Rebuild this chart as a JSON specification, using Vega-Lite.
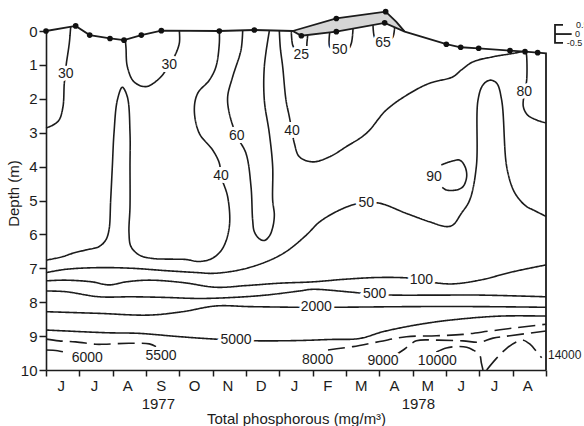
{
  "$schema": "https://vega.github.io/schema/vega-lite/v6.json",
  "width": 500,
  "height": 339,
  "autosize": {"type": "none"},
  "padding": {"left": 46, "top": 31, "right": 38, "bottom": 56},
  "background": "white",
  "config": {
    "view": {"stroke": null},
    "text": {"font": "Liberation Sans", "color": "#1c1c1c"},
    "axis": {"labelFont": "Liberation Sans", "titleFont": "Liberation Sans", "labelColor": "#1c1c1c", "titleColor": "#1c1c1c", "domainColor": "#1c1c1c", "tickColor": "#1c1c1c", "domainWidth": 1.6, "tickWidth": 1.5, "grid": false, "titleFontWeight": "normal"}
  },
  "datasets": {
    "S": [
      {"c":"surf","i":0,"m":0,"d":0},{"c":"surf","i":1,"m":0.89,"d":-0.15},{"c":"surf","i":2,"m":1.31,"d":0.12},{"c":"surf","i":3,"m":1.92,"d":0.22},{"c":"surf","i":4,"m":2.34,"d":0.27},{"c":"surf","i":5,"m":2.86,"d":0.12},{"c":"surf","i":6,"m":3.46,"d":-0.01},{"c":"surf","i":7,"m":5.2,"d":0},{"c":"surf","i":8,"m":6.25,"d":-0.03},{"c":"surf","i":9,"m":7.4,"d":0},{"c":"surf","i":10,"m":7.66,"d":0.14},{"c":"surf","i":11,"m":8.71,"d":0.02},{"c":"surf","i":12,"m":10.16,"d":-0.24},{"c":"surf","i":13,"m":10.76,"d":0.02},{"c":"surf","i":14,"m":12.01,"d":0.39},{"c":"surf","i":15,"m":12.44,"d":0.48},{"c":"surf","i":16,"m":12.98,"d":0.51},{"c":"surf","i":17,"m":13.92,"d":0.58},{"c":"surf","i":18,"m":14.37,"d":0.61},{"c":"surf","i":19,"m":14.75,"d":0.64},{"c":"surf","i":20,"m":15,"d":0.66},{"c":"surf","i":21,"m":15,"d":10},
      {"c":"ice","i":0,"m":7.4,"d":0},{"c":"ice","i":1,"m":8.71,"d":-0.37},{"c":"ice","i":2,"m":10.19,"d":-0.57},{"c":"ice","i":3,"m":10.51,"d":-0.27},{"c":"ice","i":4,"m":10.76,"d":0.02},
      {"c":"br","i":0,"m":15.51,"d":-0.18},{"c":"br","i":1,"m":15.27,"d":-0.18},{"c":"br","i":2,"m":15.27,"d":0.35},{"c":"br","i":3,"m":15.51,"d":0.35},
      {"c":"bm","i":0,"m":15.27,"d":0.09},{"c":"bm","i":1,"m":15.77,"d":0.09}
    ],
    "A": [
      {"m":7.4,"d":0,"lo":0},{"m":7.66,"d":-0.073,"lo":0.14},{"m":8.71,"d":-0.37,"lo":0.02},{"m":10.16,"d":-0.566,"lo":-0.24},{"m":10.19,"d":-0.57,"lo":-0.227},{"m":10.51,"d":-0.27,"lo":-0.09},{"m":10.76,"d":0.02,"lo":0.02}
    ],
    "P": [
      {"m":0,"d":0},{"m":0.89,"d":-0.15},{"m":1.31,"d":0.12},{"m":1.92,"d":0.22},{"m":2.34,"d":0.27},{"m":2.86,"d":0.12},{"m":3.46,"d":-0.01},{"m":5.2,"d":0},{"m":6.25,"d":-0.03},{"m":7.66,"d":0.14},{"m":8.71,"d":0.02},{"m":10.16,"d":-0.24},{"m":12.01,"d":0.39},{"m":12.44,"d":0.48},{"m":12.98,"d":0.51},{"m":13.92,"d":0.58},{"m":14.37,"d":0.61},{"m":14.75,"d":0.64},{"m":8.71,"d":-0.37},{"m":10.19,"d":-0.57}
    ],
    "L": [
      {"c":"c30a","s":"a","i":0,"m":0.74,"d":-0.12},{"c":"c30a","s":"a","i":1,"m":0.7,"d":0.35},{"c":"c30a","s":"a","i":2,"m":0.6,"d":1.05},{"c":"c30a","s":"a","i":3,"m":0.59,"d":1.27},{"c":"c30a","s":"a","i":4,"m":0.55,"d":1.53},{"c":"c30a","s":"a","i":5,"m":0.51,"d":2.23},{"c":"c30a","s":"a","i":6,"m":0.39,"d":2.63},{"c":"c30a","s":"a","i":7,"m":0.2,"d":2.78},{"c":"c30a","s":"a","i":8,"m":0,"d":2.86},
      {"c":"c30b","s":"a","i":0,"m":4.0,"d":0},{"c":"c30b","s":"a","i":1,"m":4.0,"d":0.36},{"c":"c30b","s":"a","i":2,"m":3.85,"d":0.76},{"c":"c30b","s":"a","i":3,"m":3.7,"d":1.0},{"c":"c30b","s":"a","i":4,"m":3.4,"d":1.4},{"c":"c30b","s":"a","i":5,"m":3.0,"d":1.64},{"c":"c30b","s":"a","i":6,"m":2.64,"d":1.5},{"c":"c30b","s":"a","i":7,"m":2.44,"d":1.05},{"c":"c30b","s":"a","i":8,"m":2.4,"d":0.5},{"c":"c30b","s":"a","i":9,"m":2.38,"d":0.26},
      {"c":"c40a","s":"a","i":0,"m":5.2,"d":0},{"c":"c40a","s":"a","i":1,"m":5.2,"d":0.36},{"c":"c40a","s":"a","i":2,"m":5.1,"d":1.05},{"c":"c40a","s":"a","i":3,"m":4.9,"d":1.45},{"c":"c40a","s":"a","i":4,"m":4.55,"d":1.84},{"c":"c40a","s":"a","i":5,"m":4.45,"d":2.33},{"c":"c40a","s":"a","i":6,"m":4.6,"d":3.02},{"c":"c40a","s":"a","i":7,"m":5.0,"d":3.51},{"c":"c40a","s":"a","i":8,"m":5.2,"d":3.9},{"c":"c40a","s":"a","i":9,"m":5.25,"d":4.28},{"c":"c40a","s":"a","i":10,"m":5.45,"d":4.89},{"c":"c40a","s":"a","i":11,"m":5.5,"d":5.77},{"c":"c40a","s":"a","i":12,"m":5.3,"d":6.41},{"c":"c40a","s":"a","i":13,"m":5.0,"d":6.7},{"c":"c40a","s":"a","i":14,"m":4.6,"d":6.8},{"c":"c40a","s":"a","i":15,"m":4.2,"d":6.74},{"c":"c40a","s":"a","i":16,"m":3.8,"d":6.73},{"c":"c40a","s":"a","i":17,"m":3.2,"d":6.71},{"c":"c40a","s":"a","i":18,"m":2.8,"d":6.61},{"c":"c40a","s":"a","i":19,"m":2.55,"d":6.36},{"c":"c40a","s":"a","i":20,"m":2.49,"d":5.96},{"c":"c40a","s":"a","i":21,"m":2.52,"d":5.18},{"c":"c40a","s":"a","i":22,"m":2.52,"d":4.0},{"c":"c40a","s":"a","i":23,"m":2.52,"d":3.01},{"c":"c40a","s":"a","i":24,"m":2.44,"d":1.94},{"c":"c40a","s":"a","i":25,"m":2.29,"d":1.66},{"c":"c40a","s":"a","i":26,"m":2.14,"d":2.04},{"c":"c40a","s":"a","i":27,"m":2.04,"d":3.01},{"c":"c40a","s":"a","i":28,"m":1.99,"d":4.0},{"c":"c40a","s":"a","i":29,"m":1.94,"d":4.99},{"c":"c40a","s":"a","i":30,"m":1.89,"d":5.87},{"c":"c40a","s":"a","i":31,"m":1.79,"d":6.17},{"c":"c40a","s":"a","i":32,"m":1.59,"d":6.36},{"c":"c40a","s":"a","i":33,"m":1.19,"d":6.46},{"c":"c40a","s":"a","i":34,"m":0.79,"d":6.56},{"c":"c40a","s":"a","i":35,"m":0.49,"d":6.66},{"c":"c40a","s":"a","i":36,"m":0,"d":6.76},
      {"c":"c60","s":"a","i":0,"m":5.9,"d":0},{"c":"c60","s":"a","i":1,"m":5.85,"d":0.56},{"c":"c60","s":"a","i":2,"m":5.6,"d":1.35},{"c":"c60","s":"a","i":3,"m":5.45,"d":1.94},{"c":"c60","s":"a","i":4,"m":5.5,"d":2.43},{"c":"c60","s":"a","i":5,"m":5.72,"d":3.09},{"c":"c60","s":"a","i":6,"m":6.0,"d":3.61},{"c":"c60","s":"a","i":7,"m":6.15,"d":4.59},{"c":"c60","s":"a","i":8,"m":6.2,"d":5.58},{"c":"c60","s":"a","i":9,"m":6.25,"d":5.92},{"c":"c60","s":"a","i":10,"m":6.4,"d":6.13},{"c":"c60","s":"a","i":11,"m":6.55,"d":6.18},{"c":"c60","s":"a","i":12,"m":6.7,"d":6.05},{"c":"c60","s":"a","i":13,"m":6.8,"d":5.8},{"c":"c60","s":"a","i":14,"m":6.85,"d":5.43},{"c":"c60","s":"a","i":15,"m":6.8,"d":4.99},{"c":"c60","s":"a","i":16,"m":6.8,"d":4.0},{"c":"c60","s":"a","i":17,"m":6.7,"d":3.02},{"c":"c60","s":"a","i":18,"m":6.55,"d":2.04},{"c":"c60","s":"a","i":19,"m":6.55,"d":1.05},{"c":"c60","s":"a","i":20,"m":6.7,"d":0},
      {"c":"c40b","s":"a","i":0,"m":7.0,"d":0},{"c":"c40b","s":"a","i":1,"m":7.03,"d":0.5},{"c":"c40b","s":"a","i":2,"m":7.1,"d":1.05},{"c":"c40b","s":"a","i":3,"m":7.2,"d":2.04},{"c":"c40b","s":"a","i":4,"m":7.3,"d":2.53},{"c":"c40b","s":"a","i":5,"m":7.38,"d":2.95},{"c":"c40b","s":"a","i":6,"m":7.45,"d":3.31},{"c":"c40b","s":"a","i":7,"m":7.6,"d":3.71},{"c":"c40b","s":"a","i":8,"m":8.0,"d":3.86},{"c":"c40b","s":"a","i":9,"m":8.51,"d":3.71},{"c":"c40b","s":"a","i":10,"m":9.01,"d":3.41},{"c":"c40b","s":"a","i":11,"m":9.61,"d":3.02},{"c":"c40b","s":"a","i":12,"m":10.21,"d":2.33},{"c":"c40b","s":"a","i":13,"m":10.91,"d":1.84},{"c":"c40b","s":"a","i":14,"m":11.51,"d":1.54},{"c":"c40b","s":"a","i":15,"m":12.21,"d":1.35},{"c":"c40b","s":"a","i":16,"m":12.46,"d":1.15},{"c":"c40b","s":"a","i":17,"m":12.81,"d":0.91},{"c":"c40b","s":"a","i":18,"m":13.41,"d":0.76},{"c":"c40b","s":"a","i":19,"m":14.02,"d":0.66},{"c":"c40b","s":"a","i":20,"m":14.28,"d":0.61},
      {"c":"c80","s":"a","i":0,"m":14.4,"d":0.62},{"c":"c80","s":"a","i":1,"m":14.42,"d":0.75},{"c":"c80","s":"a","i":2,"m":14.42,"d":1.45},{"c":"c80","s":"a","i":3,"m":14.36,"d":1.79},{"c":"c80","s":"a","i":4,"m":14.32,"d":2.23},{"c":"c80","s":"a","i":5,"m":14.45,"d":2.48},{"c":"c80","s":"a","i":6,"m":14.73,"d":2.63},{"c":"c80","s":"a","i":7,"m":15.0,"d":2.71},
      {"c":"c90","s":"a","i":0,"m":11.86,"d":3.95},{"c":"c90","s":"a","i":1,"m":12.11,"d":3.86},{"c":"c90","s":"a","i":2,"m":12.41,"d":3.81},{"c":"c90","s":"a","i":3,"m":12.57,"d":4.0},{"c":"c90","s":"a","i":4,"m":12.62,"d":4.3},{"c":"c90","s":"a","i":5,"m":12.51,"d":4.59},{"c":"c90","s":"a","i":6,"m":12.31,"d":4.69},{"c":"c90","s":"a","i":7,"m":12.01,"d":4.69},{"c":"c90","s":"a","i":8,"m":11.89,"d":4.61},
      {"c":"c25","s":"a","i":0,"m":7.36,"d":0.02},{"c":"c25","s":"a","i":1,"m":7.4,"d":0.41},{"c":"c25","s":"a","i":2,"m":7.5,"d":0.58},{"c":"c25","s":"a","i":3,"m":7.66,"d":0.68},{"c":"c25","s":"a","i":4,"m":7.8,"d":0.56},{"c":"c25","s":"a","i":5,"m":7.83,"d":0.32},{"c":"c25","s":"a","i":6,"m":7.85,"d":0.13},
      {"c":"c50h","s":"a","i":0,"m":8.51,"d":0.05},{"c":"c50h","s":"a","i":1,"m":8.51,"d":0.46},{"c":"c50h","s":"a","i":2,"m":8.63,"d":0.56},{"c":"c50h","s":"a","i":3,"m":8.81,"d":0.62},{"c":"c50h","s":"a","i":4,"m":9.05,"d":0.56},{"c":"c50h","s":"a","i":5,"m":9.16,"d":0.36},{"c":"c50h","s":"a","i":6,"m":9.21,"d":-0.07},
      {"c":"c65","s":"a","i":0,"m":9.81,"d":-0.17},{"c":"c65","s":"a","i":1,"m":9.86,"d":0.2},{"c":"c65","s":"a","i":2,"m":9.96,"d":0.29},{"c":"c65","s":"a","i":3,"m":10.11,"d":0.38},{"c":"c65","s":"a","i":4,"m":10.31,"d":0.27},{"c":"c65","s":"a","i":5,"m":10.41,"d":0.17},{"c":"c65","s":"a","i":6,"m":10.46,"d":-0.12},
      {"c":"c50","s":"a","i":0,"m":0,"d":7.13},{"c":"c50","s":"a","i":1,"m":0.59,"d":7.03},{"c":"c50","s":"a","i":2,"m":1.59,"d":6.98},{"c":"c50","s":"a","i":3,"m":2.59,"d":7.0},{"c":"c50","s":"a","i":4,"m":3.6,"d":7.07},{"c":"c50","s":"a","i":5,"m":4.6,"d":7.13},{"c":"c50","s":"a","i":6,"m":5.0,"d":7.15},{"c":"c50","s":"a","i":7,"m":5.8,"d":7.05},{"c":"c50","s":"a","i":8,"m":6.6,"d":6.81},{"c":"c50","s":"a","i":9,"m":7.2,"d":6.51},{"c":"c50","s":"a","i":10,"m":7.81,"d":6.02},{"c":"c50","s":"a","i":11,"m":8.21,"d":5.63},{"c":"c50","s":"a","i":12,"m":8.81,"d":5.28},{"c":"c50","s":"a","i":13,"m":9.31,"d":5.1},{"c":"c50","s":"a","i":14,"m":9.61,"d":5.07},{"c":"c50","s":"a","i":15,"m":10.01,"d":5.08},{"c":"c50","s":"a","i":16,"m":10.81,"d":5.38},{"c":"c50","s":"a","i":17,"m":11.51,"d":5.63},{"c":"c50","s":"a","i":18,"m":12.01,"d":5.77},{"c":"c50","s":"a","i":19,"m":12.21,"d":5.72},{"c":"c50","s":"a","i":20,"m":12.46,"d":5.38},{"c":"c50","s":"a","i":21,"m":12.71,"d":4.99},{"c":"c50","s":"a","i":22,"m":12.91,"d":4.0},{"c":"c50","s":"a","i":23,"m":12.96,"d":2.04},{"c":"c50","s":"a","i":24,"m":13.11,"d":1.59},{"c":"c50","s":"a","i":25,"m":13.32,"d":1.45},{"c":"c50","s":"a","i":26,"m":13.52,"d":1.54},{"c":"c50","s":"a","i":27,"m":13.67,"d":2.04},{"c":"c50","s":"a","i":28,"m":13.82,"d":4.0},{"c":"c50","s":"a","i":29,"m":14.02,"d":4.69},{"c":"c50","s":"a","i":30,"m":14.22,"d":4.99},{"c":"c50","s":"a","i":31,"m":14.42,"d":5.18},{"c":"c50","s":"a","i":32,"m":14.62,"d":5.28},{"c":"c50","s":"a","i":33,"m":15.0,"d":5.47},
      {"c":"c100","s":"a","i":0,"m":0,"d":7.37},{"c":"c100","s":"a","i":1,"m":0.59,"d":7.35},{"c":"c100","s":"a","i":2,"m":1.38,"d":7.4},{"c":"c100","s":"a","i":3,"m":1.89,"d":7.49},{"c":"c100","s":"a","i":4,"m":2.4,"d":7.4},{"c":"c100","s":"a","i":5,"m":3.1,"d":7.35},{"c":"c100","s":"a","i":6,"m":4.1,"d":7.42},{"c":"c100","s":"a","i":7,"m":5.1,"d":7.56},{"c":"c100","s":"a","i":8,"m":6.0,"d":7.51},{"c":"c100","s":"a","i":9,"m":7.0,"d":7.44},{"c":"c100","s":"a","i":10,"m":8.0,"d":7.4},{"c":"c100","s":"a","i":11,"m":9.01,"d":7.32},{"c":"c100","s":"a","i":12,"m":10.01,"d":7.27},{"c":"c100","s":"a","i":13,"m":10.91,"d":7.29},{"c":"c100","s":"a","i":14,"m":11.26,"d":7.35},{"c":"c100","s":"a","i":15,"m":11.71,"d":7.43},{"c":"c100","s":"a","i":16,"m":12.21,"d":7.46},{"c":"c100","s":"a","i":17,"m":13.01,"d":7.35},{"c":"c100","s":"a","i":18,"m":14.02,"d":7.1},{"c":"c100","s":"a","i":19,"m":15.0,"d":6.9},
      {"c":"c500","s":"a","i":0,"m":0,"d":7.67},{"c":"c500","s":"a","i":1,"m":0.59,"d":7.69},{"c":"c500","s":"a","i":2,"m":1.59,"d":7.84},{"c":"c500","s":"a","i":3,"m":2.59,"d":7.84},{"c":"c500","s":"a","i":4,"m":3.6,"d":7.86},{"c":"c500","s":"a","i":5,"m":4.6,"d":7.89},{"c":"c500","s":"a","i":6,"m":5.6,"d":7.86},{"c":"c500","s":"a","i":7,"m":6.6,"d":7.79},{"c":"c500","s":"a","i":8,"m":7.6,"d":7.67},{"c":"c500","s":"a","i":9,"m":8.0,"d":7.62},{"c":"c500","s":"a","i":10,"m":9.01,"d":7.69},{"c":"c500","s":"a","i":11,"m":9.86,"d":7.77},{"c":"c500","s":"a","i":12,"m":10.41,"d":7.79},{"c":"c500","s":"a","i":13,"m":12.01,"d":7.79},{"c":"c500","s":"a","i":14,"m":13.01,"d":7.79},{"c":"c500","s":"a","i":15,"m":15.0,"d":7.84},
      {"c":"c2000","s":"a","i":0,"m":0,"d":8.28},{"c":"c2000","s":"a","i":1,"m":1.59,"d":8.33},{"c":"c2000","s":"a","i":2,"m":3.1,"d":8.38},{"c":"c2000","s":"a","i":3,"m":4.1,"d":8.28},{"c":"c2000","s":"a","i":4,"m":5.1,"d":8.11},{"c":"c2000","s":"a","i":5,"m":6.1,"d":8.13},{"c":"c2000","s":"a","i":6,"m":7.6,"d":8.15},{"c":"c2000","s":"a","i":7,"m":8.11,"d":8.15},{"c":"c2000","s":"a","i":8,"m":8.61,"d":8.15},{"c":"c2000","s":"a","i":9,"m":11.01,"d":8.13},{"c":"c2000","s":"a","i":10,"m":13.01,"d":8.13},{"c":"c2000","s":"a","i":11,"m":15.0,"d":8.15},
      {"c":"c5000","s":"a","i":0,"m":0,"d":8.82},{"c":"c5000","s":"a","i":1,"m":1.79,"d":8.9},{"c":"c5000","s":"a","i":2,"m":2.8,"d":8.92},{"c":"c5000","s":"a","i":3,"m":3.8,"d":9.0},{"c":"c5000","s":"a","i":4,"m":4.6,"d":9.06},{"c":"c5000","s":"a","i":5,"m":5.7,"d":9.12},{"c":"c5000","s":"a","i":6,"m":6.4,"d":9.14},{"c":"c5000","s":"a","i":7,"m":7.6,"d":9.13},{"c":"c5000","s":"a","i":8,"m":8.51,"d":9.1},{"c":"c5000","s":"a","i":9,"m":9.41,"d":9.07},{"c":"c5000","s":"a","i":10,"m":10.11,"d":8.87},{"c":"c5000","s":"a","i":11,"m":11.11,"d":8.67},{"c":"c5000","s":"a","i":12,"m":12.11,"d":8.53},{"c":"c5000","s":"a","i":13,"m":13.62,"d":8.41},{"c":"c5000","s":"a","i":14,"m":15.0,"d":8.41},
      {"c":"d5500","s":"b","i":0,"m":0,"d":9.09},{"c":"d5500","s":"b","i":1,"m":0.39,"d":9.14},{"c":"d5500","s":"b","i":2,"m":0.89,"d":9.17},{"c":"d5500","s":"b","i":3,"m":1.49,"d":9.24},{"c":"d5500","s":"b","i":4,"m":1.74,"d":9.24},{"c":"d5500","s":"b","i":5,"m":2.49,"d":9.21},{"c":"d5500","s":"b","i":6,"m":3.1,"d":9.23},{"c":"d5500","s":"b","i":7,"m":3.3,"d":9.31},
      {"c":"d6000","s":"b","i":0,"m":0,"d":9.41},{"c":"d6000","s":"b","i":1,"m":0.35,"d":9.43},{"c":"d6000","s":"b","i":2,"m":0.59,"d":9.48},
      {"c":"d8000","s":"b","i":0,"m":8.46,"d":9.41},{"c":"d8000","s":"b","i":1,"m":9.21,"d":9.31},{"c":"d8000","s":"b","i":2,"m":10.01,"d":9.16},{"c":"d8000","s":"b","i":3,"m":10.81,"d":9.02},{"c":"d8000","s":"b","i":4,"m":11.71,"d":8.99},{"c":"d8000","s":"b","i":5,"m":12.51,"d":8.95},{"c":"d8000","s":"b","i":6,"m":13.32,"d":8.85},{"c":"d8000","s":"b","i":7,"m":14.12,"d":8.75},{"c":"d8000","s":"b","i":8,"m":15.0,"d":8.65},
      {"c":"d9000","s":"b","i":0,"m":10.41,"d":9.61},{"c":"d9000","s":"b","i":1,"m":10.76,"d":9.38},{"c":"d9000","s":"b","i":2,"m":11.11,"d":9.14},{"c":"d9000","s":"b","i":3,"m":11.72,"d":9.12},{"c":"d9000","s":"b","i":4,"m":12.51,"d":9.14},{"c":"d9000","s":"b","i":5,"m":13.01,"d":9.18},{"c":"d9000","s":"b","i":6,"m":13.41,"d":9.06},{"c":"d9000","s":"b","i":7,"m":13.92,"d":8.99},{"c":"d9000","s":"b","i":8,"m":15.0,"d":8.85},
      {"c":"d10000","s":"b","i":0,"m":11.71,"d":9.47},{"c":"d10000","s":"b","i":1,"m":12.01,"d":9.35},{"c":"d10000","s":"b","i":2,"m":12.31,"d":9.31},{"c":"d10000","s":"b","i":3,"m":12.62,"d":9.33},{"c":"d10000","s":"b","i":4,"m":12.81,"d":9.41},{"c":"d10000","s":"b","i":5,"m":13.01,"d":9.56},{"c":"d10000","s":"b","i":6,"m":13.06,"d":9.79},{"c":"d10000","s":"b","i":7,"m":13.11,"d":10.0},
      {"c":"d12000","s":"b","i":0,"m":13.22,"d":10.0},{"c":"d12000","s":"b","i":1,"m":13.52,"d":9.65},{"c":"d12000","s":"b","i":2,"m":13.82,"d":9.36},{"c":"d12000","s":"b","i":3,"m":14.12,"d":9.17},{"c":"d12000","s":"b","i":4,"m":14.32,"d":9.12},{"c":"d12000","s":"b","i":5,"m":14.52,"d":9.24},{"c":"d12000","s":"b","i":6,"m":14.72,"d":9.46},{"c":"d12000","s":"b","i":7,"m":14.87,"d":9.64}
    ],
    "T": [
      {"t":"30","m":0.59,"d":1.27},{"t":"30","m":3.7,"d":1.0},{"t":"40","m":5.25,"d":4.28},{"t":"60","m":5.72,"d":3.09},{"t":"40","m":7.38,"d":2.95},{"t":"25","m":7.66,"d":0.72},{"t":"50","m":8.81,"d":0.56},{"t":"65","m":10.11,"d":0.36},{"t":"80","m":14.35,"d":1.79},{"t":"90","m":11.64,"d":4.3},{"t":"50","m":9.61,"d":5.07},{"t":"100","m":11.26,"d":7.35},{"t":"500","m":9.86,"d":7.77},{"t":"2000","m":8.11,"d":8.15},{"t":"5000","m":5.7,"d":9.12},{"t":"6000","m":1.24,"d":9.66},{"t":"5500","m":3.45,"d":9.59},{"t":"8000","m":8.15,"d":9.7},{"t":"9000","m":10.11,"d":9.73},{"t":"10000","m":11.74,"d":9.73}
    ],
    "R": [
      {"t":"14000","m":15.06,"d":9.56}
    ],
    "K": [
      {"t":"0.5","m":15.9,"d":-0.18},{"t":"0","m":15.87,"d":0.09},{"t":"-0.5","m":15.62,"d":0.35}
    ],
    "Y": [
      {"t":"1977","m":3.37,"d":10},{"t":"1978","m":11.17,"d":10}
    ]
  },
  "encoding": {
    "x": {
      "field": "m", "type": "quantitative",
      "scale": {"domain": [0, 15], "nice": false, "zero": false},
      "axis": {
        "title": "Total phosphorous (mg/m³)",
        "values": [0,0.44,1,1.44,2,2.44,3,3.44,4,4.44,5,5.44,6,6.44,7,7.44,8,8.44,9,9.44,10,10.44,11,11.44,12,12.44,13,13.44,14,14.44,15],
        "tickOpacity": {"condition": {"test": "datum.value % 1 != 0", "value": 0}, "value": 1},
        "labelExpr": "datum.value % 1 ? ['J','J','A','S','O','N','D','J','F','M','A','M','J','J','A'][floor(datum.value)] : ''",
        "tickSize": 6, "labelPadding": 2, "labelFontSize": 15, "labelFlush": false, "labelOverlap": false, "labelBound": false,
        "titleFontSize": 15, "titleY": 48, "titleBaseline": "middle"
      }
    },
    "y": {
      "field": "d", "type": "quantitative",
      "scale": {"domain": [0, 10], "reverse": true, "nice": false, "zero": false},
      "axis": {
        "title": "Depth (m)",
        "values": [0,1,2,3,4,5,6,7,8,9,10],
        "tickSize": 7, "labelPadding": 2, "labelFontSize": 15,
        "titleFontSize": 15, "titleX": -33, "titleY": 162, "titleBaseline": "middle"
      }
    }
  },
  "layer": [
    {
      "data": {"name": "A"},
      "mark": {"type": "area", "color": "#d6d6d6", "interpolate": "linear"},
      "encoding": {"y2": {"field": "lo"}}
    },
    {
      "data": {"name": "S"},
      "mark": {"type": "line", "color": "#1c1c1c", "strokeWidth": 1.8, "interpolate": "linear"},
      "encoding": {"detail": {"field": "c"}, "order": {"field": "i"}}
    },
    {
      "data": {"name": "L"},
      "mark": {"type": "line", "color": "#1c1c1c", "strokeWidth": 1.6, "interpolate": "catmull-rom"},
      "encoding": {
        "detail": {"field": "c"},
        "order": {"field": "i"},
        "strokeDash": {"field": "s", "type": "nominal", "scale": {"domain": ["a", "b"], "range": [[1, 0], [17, 7]]}, "legend": null}
      }
    },
    {
      "data": {"name": "T"},
      "mark": {"type": "text", "fontSize": 14, "baseline": "middle", "align": "center", "stroke": "white", "strokeWidth": 6, "color": "white"},
      "encoding": {"text": {"field": "t"}}
    },
    {
      "data": {"name": "T"},
      "mark": {"type": "text", "fontSize": 14, "baseline": "middle", "align": "center"},
      "encoding": {"text": {"field": "t"}}
    },
    {
      "data": {"name": "R"},
      "mark": {"type": "text", "fontSize": 12, "baseline": "middle", "align": "left"},
      "encoding": {"text": {"field": "t"}}
    },
    {
      "data": {"name": "K"},
      "mark": {"type": "text", "fontSize": 9, "baseline": "middle", "align": "left"},
      "encoding": {"text": {"field": "t"}}
    },
    {
      "data": {"name": "Y"},
      "mark": {"type": "text", "fontSize": 15, "baseline": "middle", "align": "center", "dy": 34},
      "encoding": {"text": {"field": "t"}}
    },
    {
      "data": {"name": "P"},
      "mark": {"type": "point", "filled": true, "color": "#111111", "size": 32, "opacity": 1},
      "encoding": {}
    }
  ]
}
